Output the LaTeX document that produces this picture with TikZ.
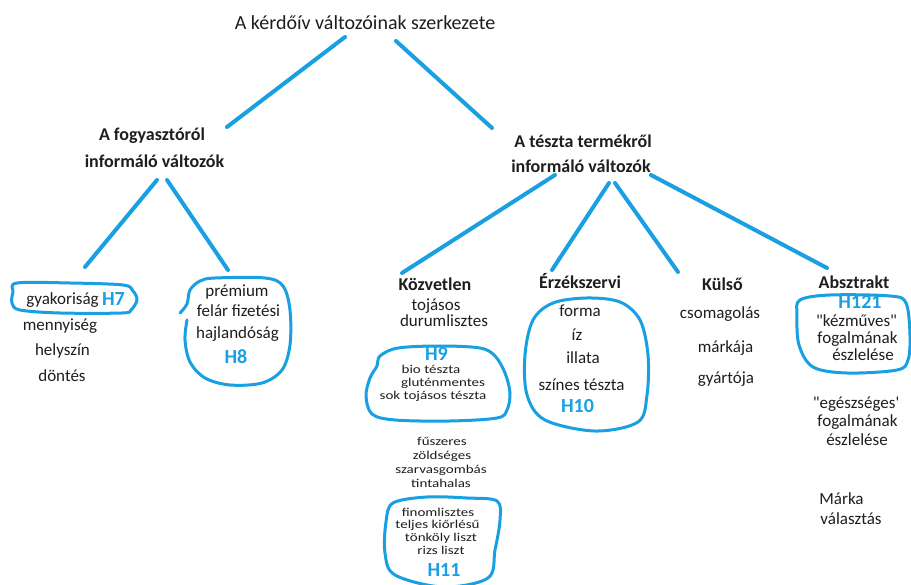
\documentclass[tikz,border=0pt]{standalone}
\usepackage{graphicx}
\usepackage{fontspec}
\setmainfont{Carlito}[Ligatures=TeXOff]
\usetikzlibrary{calc}
\definecolor{penblue}{RGB}{24,160,226}
\definecolor{ink}{RGB}{30,30,30}
% vertically condensed text for the tightly packed lists
\newcommand\squash[1]{\scalebox{1}[0.8]{#1}}

\begin{document}
\begin{tikzpicture}[x=1pt,y=-1pt,
  every node/.style={inner sep=0pt, anchor=base, text=ink},
  ttl/.style={font=\fontsize{20}{24}\selectfont},
  head/.style={font=\bfseries\fontsize{18}{22}\selectfont},
  item/.style={font=\fontsize{17}{20}\selectfont},
  small/.style={font=\fontsize{15}{18}\selectfont},
  tiny/.style={font=\fontsize{15}{16}\selectfont},
  hyp/.style={font=\bfseries\fontsize{20}{24}\selectfont, text=penblue},
  conn/.style={draw=penblue, line width=4pt, line cap=round},
  blob/.style={draw=penblue, line width=3pt, line cap=round, line join=round}]

\useasboundingbox (0,0) rectangle (911,585);
\fill[white] (0,0) rectangle (911,585);

% hand-drawn outlines around the hypothesis groups
\draw[blob] plot[smooth cycle, tension=0.55] coordinates {(17,283) (70,283) (123,285) (133,291) (137,300) (131,310) (122,313) (60,313) (20,310) (12,303) (13,292)};
\draw[blob] plot[smooth, tension=0.55] coordinates {(180,313) (187,304) (190,290) (200,281) (215,278) (265,278) (283,286) (290,310) (290,345) (282,370) (262,383) (230,385) (205,378) (190,362) (185,340) (187,320)};
\draw[blob] plot[smooth cycle, tension=0.55] coordinates {(380,356) (398,348) (440,346) (480,348) (495,356) (505,373) (510,393) (507,410) (497,418) (450,421) (395,420) (372,414) (366,396) (370,378) (377,366)};
\draw[blob] plot[smooth cycle, tension=0.55] coordinates {(553,303) (587,298) (620,302) (640,320) (648,355) (647,395) (638,422) (595,431) (545,420) (527,395) (525,355) (533,320)};
\draw[blob] plot[smooth cycle, tension=0.55] coordinates {(393,503) (427,497) (467,498) (497,501) (500,520) (495,550) (488,578) (443,587) (395,575) (385,553) (386,522)};
\draw[blob] plot[smooth cycle, tension=0.55] coordinates {(800,300) (830,295) (890,296) (906,303) (910,335) (908,360) (897,370) (847,373) (813,367) (799,345) (797,315)};

% root and the two main branches
\node[ttl] (title) at (365,30) {A kérdőív változóinak szerkezete};
\node[head] (fogy1) at (152,141) {A fogyasztóról};
\node[head] (fogy2) at (154.5,168) {informáló változók};
\node[head] (tesz1) at (583,148) {A tészta termékről};
\node[head] (tesz2) at (581,173) {informáló változók};

% consumer variables
\node[item] (gyak) at (62.5,305) {gyakoriság};
\node[hyp] (h7) at (113.5,306) {H7};
\node[item] (menny) at (60,331) {mennyiség};
\node[item] (hely) at (62.5,356) {helyszín};
\node[item] (dont) at (62,382) {döntés};
\node[item] (prem) at (237,297) {prémium};
\node[item] (felar) at (238.5,317) {felár fizetési};
\node[item] (hajl) at (237.5,339) {hajlandóság};
\node[hyp] (h8) at (236,364) {H8};

% product: direct
\node[head] (kozv) at (435,291) {Közvetlen};
\node[item] (toj) at (436,311) {tojásos};
\node[item] (durum) at (444,327) {durumlisztes};
\node[hyp] (h9) at (436.5,361) {H9};
\node[small] (bio) at (431,374) {\squash{bio tészta}};
\node[small] (glut) at (443,387) {\squash{gluténmentes}};
\node[small] (sok) at (433,400) {\squash{sok tojásos tészta}};
\node[small] (fusz) at (442,446) {\squash{fűszeres}};
\node[small] (zold) at (442,459) {\squash{zöldséges}};
\node[small] (szarv) at (441,473) {\squash{szarvasgombás}};
\node[small] (tinta) at (441,487) {\squash{tintahalas}};
\node[tiny] (finom) at (438,516) {\squash{finomlisztes}};
\node[tiny] (telj) at (437.5,528) {\squash{teljes kiőrlésű}};
\node[tiny] (tonk) at (441,541) {\squash{tönköly liszt}};
\node[tiny] (rizs) at (441,554) {\squash{rizs liszt}};
\node[hyp] (h11) at (444,576) {H11};

% product: sensory
\node[head] (erz) at (580,289) {Érzékszervi};
\node[item] (forma) at (580,317) {forma};
\node[item] (iz) at (577,341) {íz};
\node[item] (illata) at (583,364) {illata};
\node[item] (szines) at (581.5,391) {színes tészta};
\node[hyp] (h10) at (577.5,413) {H10};

% product: external
\node[head] (kulso) at (722.5,291) {Külső};
\node[item] (csom) at (720,319) {csomagolás};
\node[item] (markaja) at (725.5,353) {márkája};
\node[item] (gyart) at (726,384) {gyártója};

% product: abstract
\node[head] (absz) at (854,289) {Absztrakt};
\node[hyp] (h121) at (860,309) {H121};
\node[item] (kezm) at (856.5,327) {"kézműves"};
\node[item] (fog1) at (857.5,344) {fogalmának};
\node[item] (eszl1) at (863,361) {észlelése};
\node[item] (egesz) at (856,409) {"egészséges'};
\node[item] (fog2) at (857.5,427) {fogalmának};
\node[item] (eszl2) at (857,446) {észlelése};
\node[item] (marka) at (841.5,504) {Márka};
\node[item] (valaszt) at (851,524) {választás};

% connectors of the tree
\draw[conn] ($(title.base)+(-20,7)$) -- ($(fogy1.base)+(75,-14)$);
\draw[conn] ($(title.base)+(31,11)$) -- ($(tesz1.base)+(-91,-20)$);
\draw[conn] ($(fogy2.base)+(2.5,12)$) -- ($(gyak.base)+(22.5,-38)$);
\draw[conn] ($(fogy2.base)+(12.5,12)$) -- ($(prem.base)+(-9,-27)$);
\draw[conn] ($(tesz2.base)+(-26,2)$) -- ($(kozv.base)+(-33,-18)$);
\draw[conn] ($(tesz2.base)+(28,10)$) -- ($(erz.base)+(-28,-19)$);
\draw[conn] ($(tesz2.base)+(34,10)$) -- ($(kulso.base)+(-44.5,-19)$);
\draw[conn] ($(tesz2.base)+(70,2)$) -- ($(absz.base)+(-27,-21)$);
\end{tikzpicture}
\end{document}
